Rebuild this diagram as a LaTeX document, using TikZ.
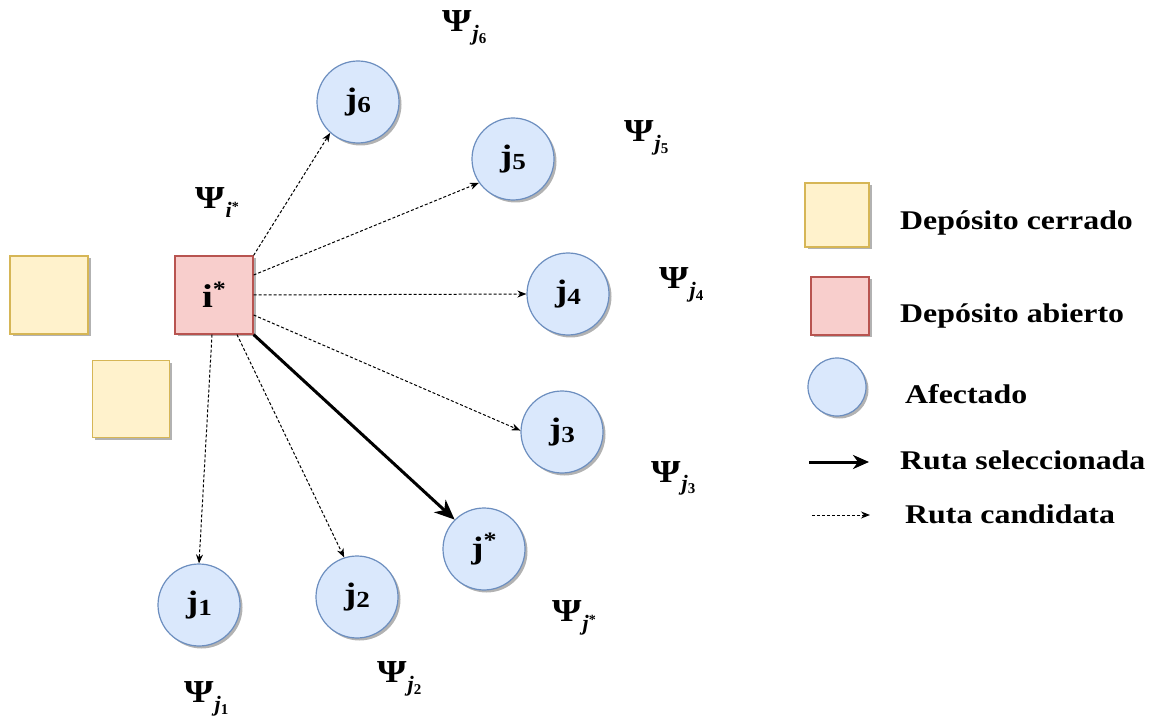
\documentclass[tikz,border=0pt]{standalone}
\usepackage{fontspec}
\setmainfont{Liberation Serif}
\newfontfamily\widefont[FakeStretch=1.18]{Liberation Serif}
\usetikzlibrary{arrows.meta,shadows}
\definecolor{closedfill}{HTML}{FFF2CC}
\definecolor{closedline}{HTML}{D6B656}
\definecolor{openfill}{HTML}{F8CECC}
\definecolor{openline}{HTML}{B85450}
\definecolor{afffill}{HTML}{DAE8FC}
\definecolor{affline}{HTML}{6C8EBF}
\newcommand{\psisub}[1]{{\widefont Ψ}\kern1pt\raisebox{-9pt}{\fontsize{22}{22}\selectfont\bfseries\itshape j\raisebox{-3pt}{\fontsize{15}{15}\selectfont\upshape #1}}}
\newcommand{\psistar}[1]{{\widefont Ψ}\kern1pt\raisebox{-9pt}{\fontsize{22}{22}\selectfont\bfseries\itshape #1\raisebox{6pt}{\fontsize{14}{14}\selectfont\upshape *}}}
\newcommand{\jlab}[1]{j\raisebox{-3pt}{\fontsize{23}{23}\selectfont #1}}
\tikzset{
  shad/.style={drop shadow={shadow xshift=2.5pt, shadow yshift=-2.5pt, opacity=0.3, fill=black}},
  closedbox/.style={draw=closedline, fill=closedfill, rectangle, minimum size=78pt, inner sep=0pt, line width=1.2pt, shad},
  openbox/.style={draw=openline, fill=openfill, rectangle, minimum size=78pt, inner sep=0pt, line width=1.2pt, shad},
  affnode/.style={draw=affline, fill=afffill, circle, minimum size=82pt, inner sep=0pt, line width=1.2pt, shad,
     font=\widefont\fontsize{31}{33}\selectfont\bfseries},
  cand/.style={dash pattern=on 3pt off 2pt, line width=1pt, -{Stealth[length=9pt,width=7pt]}},
  sel/.style={line width=3pt, -{Stealth[length=20pt,width=17pt,inset=6pt]}},
  psi/.style={font=\fontsize{32}{34}\selectfont\bfseries, inner sep=0pt, anchor=base west},
  legtext/.style={font=\widefont\fontsize{27}{30}\selectfont\bfseries, inner sep=0pt, anchor=base west},
}
\begin{document}
\begin{tikzpicture}[x=1pt,y=-1pt]
\useasboundingbox (0,0) rectangle (1160,719);
% depots
\node[closedbox] (c1) at (49,295) {};
\node[closedbox, minimum size=77pt] (c2) at (131,399) {};
\node[openbox, font=\widefont\fontsize{33}{35}\selectfont\bfseries] (istar) at (214,295) {i\raisebox{11pt}{\fontsize{22}{22}\selectfont *}};
% affected
\node[affnode] (j6) at (358,102) {\jlab{6}};
\node[affnode] (j5) at (513,159) {\jlab{5}};
\node[affnode] (j4) at (568,294) {\jlab{4}};
\node[affnode] (j3) at (562,432) {\jlab{3}};
\node[affnode] (jstar) at (484,549) {j\raisebox{11pt}{\fontsize{22}{22}\selectfont *}};
\node[affnode] (j2) at (357,597) {\jlab{2}};
\node[affnode] (j1) at (199,605) {\jlab{1}};
% connectors
\draw[cand] (istar.north east) -- (j6.228);
\draw[cand] ([yshift=20pt]istar.east) -- (j5.215);
\draw[cand] (istar.east) -- (j4.west);
\draw[cand] ([yshift=-20pt]istar.east) -- (j3.178);
\draw[sel] (istar.south east) -- (jstar.135);
\draw[cand] ([xshift=23pt]istar.south) -- (j2.108);
\draw[cand] ([xshift=-2pt]istar.south) -- (j1.north);
% psi labels
\node[psi] (pi) at (195,209) {\psistar{i}};
\node[psi] (p6) at (442,32) {\psisub{6}};
\node[psi] (p5) at (624,142) {\psisub{5}};
\node[psi] (p4) at (659,289) {\psisub{4}};
\node[psi] (p3) at (651,482) {\psisub{3}};
\node[psi] (ps) at (552,621) {\psistar{j}};
\node[psi] (p2) at (377,682) {\psisub{2}};
\node[psi] (p1) at (184,702) {\psisub{1}};
% legend
\node[closedbox, minimum size=64pt] (lc) at (837,215) {};
\node[openbox, minimum size=58pt] (lo) at (840,306) {};
\node[affnode, minimum size=58pt] (la) at (837,387) {};
\coordinate (ls1) at (809,462);
\coordinate (ls2) at (869,462);
\coordinate (lc1) at (812,515);
\coordinate (lc2) at (870,515);
\draw[line width=3pt, -{Stealth[length=16pt,width=14pt,inset=5pt]}] (ls1) -- (ls2);
\draw[cand] (lc1) -- (lc2);
\node[legtext] (t1) at (900,230) {Depósito cerrado};
\node[legtext] (t2) at (900,323) {Depósito abierto};
\node[legtext] (t3) at (905,403) {Afectado};
\node[legtext] (t4) at (900,469) {Ruta seleccionada};
\node[legtext] (t5) at (905,523) {Ruta candidata};
\end{tikzpicture}
\end{document}
